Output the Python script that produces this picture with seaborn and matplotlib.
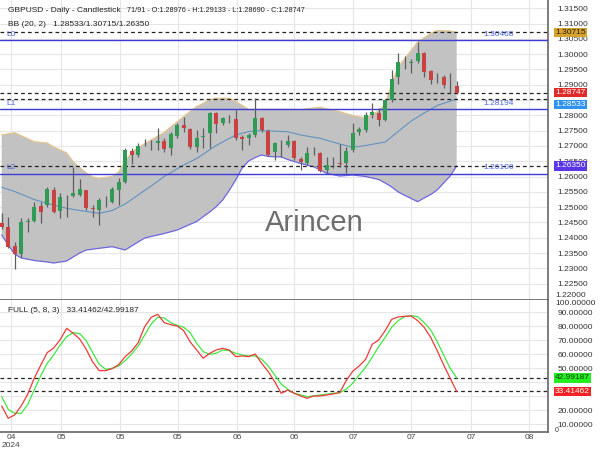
import matplotlib
matplotlib.use("Agg")
import matplotlib.pyplot as plt
import seaborn as sns
import numpy as np

# ---------------- data ----------------
opens = [1.24484, 1.24353, 1.23732, 1.23471, 1.24516, 1.24549, 1.25039, 1.25072, 1.25562, 1.24876,
         1.25366, 1.25366, 1.25399, 1.25562, 1.24974, 1.24908, 1.25268, 1.25170, 1.25562, 1.25824,
         1.26837, 1.26706, 1.27130, 1.27065, 1.27098, 1.27163, 1.26935, 1.27327, 1.27686, 1.27555,
         1.26967, 1.27294, 1.27425, 1.28078, 1.27751, 1.27915, 1.27882, 1.27294, 1.27261, 1.27359,
         1.27915, 1.27490, 1.26804, 1.27098, 1.27032, 1.27163, 1.26575, 1.26444, 1.26837, 1.26771,
         1.26216, 1.26412, 1.26444, 1.26444, 1.26869, 1.27457, 1.27523, 1.28013, 1.28078, 1.27849,
         1.28503, 1.29255, 1.29712, 1.29712, 1.29778, 1.30039, 1.29451, 1.29157, 1.29255, 1.28993,
         1.28976]
highs = [1.24810, 1.24679, 1.23863, 1.24647, 1.24647, 1.25170, 1.25170, 1.25660, 1.25660, 1.25464,
         1.25399, 1.26314, 1.25922, 1.25562, 1.25072, 1.25301, 1.25366, 1.25660, 1.25954, 1.26935,
         1.26935, 1.27098, 1.27228, 1.27196, 1.27588, 1.27261, 1.27457, 1.27751, 1.27947, 1.27588,
         1.27523, 1.27588, 1.28111, 1.28111, 1.27947, 1.28013, 1.28176, 1.27359, 1.27425, 1.28568,
         1.27947, 1.27555, 1.27130, 1.27196, 1.27359, 1.27196, 1.26641, 1.26967, 1.26967, 1.26804,
         1.26641, 1.26641, 1.27065, 1.26967, 1.27751, 1.27621, 1.28111, 1.28405, 1.28242, 1.28536,
         1.29483, 1.30039, 1.29941, 1.29843, 1.30398, 1.30072, 1.29483, 1.29385, 1.29320, 1.29385,
         1.29133]
lows = [1.24288, 1.23667, 1.22981, 1.23373, 1.24190, 1.24516, 1.24484, 1.25006, 1.24810, 1.24647,
        1.24679, 1.25333, 1.25366, 1.24908, 1.24679, 1.24418, 1.25006, 1.25137, 1.25072, 1.25791,
        1.26412, 1.26641, 1.27000, 1.26869, 1.26869, 1.26804, 1.26706, 1.27261, 1.27457, 1.26902,
        1.26804, 1.26935, 1.26935, 1.27425, 1.27686, 1.27751, 1.27196, 1.26869, 1.27032, 1.27294,
        1.27457, 1.26673, 1.26542, 1.26641, 1.26967, 1.26542, 1.26216, 1.26379, 1.26706, 1.26150,
        1.26118, 1.26281, 1.26314, 1.26118, 1.26804, 1.27359, 1.27457, 1.27915, 1.27653, 1.27817,
        1.28438, 1.29026, 1.29516, 1.29385, 1.29712, 1.29255, 1.29026, 1.29059, 1.28895, 1.28732,
        1.28690]
closes = [1.24353, 1.23699, 1.23471, 1.24516, 1.24549, 1.25006, 1.24843, 1.25595, 1.24843, 1.25333,
          1.25366, 1.25464, 1.25595, 1.24974, 1.24941, 1.25235, 1.25268, 1.25595, 1.25824, 1.26869,
          1.26706, 1.27000, 1.27130, 1.27065, 1.27163, 1.26902, 1.27392, 1.27686, 1.27588, 1.26967,
          1.27261, 1.27327, 1.28078, 1.27719, 1.27915, 1.27915, 1.27261, 1.27228, 1.27359, 1.27915,
          1.27523, 1.26706, 1.27098, 1.27098, 1.27163, 1.26608, 1.26477, 1.26771, 1.26837, 1.26183,
          1.26379, 1.26412, 1.26412, 1.26837, 1.27425, 1.27555, 1.28013, 1.28111, 1.27849, 1.28503,
          1.29189, 1.29745, 1.29712, 1.29745, 1.30039, 1.29418, 1.29157, 1.29157, 1.28993, 1.28993,
          1.28747]

# Bollinger band (20, 2), at candle indices
bb_upper_idx = [0, 2, 5, 7, 8, 10, 11, 13, 14, 15, 17, 18, 19, 20, 21, 23, 25, 28, 30, 31,
                32, 33, 35, 36, 37, 38, 40, 44, 46, 49, 52, 54, 56, 58, 59, 60, 61, 63, 64, 66,
                67, 69, 70]
bb_upper = [1.27359, 1.27434, 1.27140, 1.27098, 1.26967, 1.26771, 1.26487, 1.26118, 1.25987, 1.25944,
            1.26003, 1.26150, 1.26494, 1.26787, 1.26951, 1.27196, 1.27441, 1.27964, 1.28291, 1.28389,
            1.28519, 1.28559, 1.28559, 1.28454, 1.28323, 1.28193, 1.28199, 1.28199, 1.28193, 1.28265,
            1.28121, 1.27996, 1.27915, 1.28144, 1.28372, 1.29026, 1.29581, 1.30121, 1.30398, 1.30676,
            1.30774, 1.30758, 1.30715]
bb_mid_idx = [0, 2, 5, 7, 10, 12, 15, 17, 19, 21, 23, 25, 28, 30, 33, 36, 38, 40, 44, 46,
              49, 52, 54, 56, 59, 61, 63, 65, 67, 70]
bb_mid = [1.25650, 1.25513, 1.25252, 1.25121, 1.24964, 1.24892, 1.24800, 1.24892, 1.25105, 1.25399,
          1.25693, 1.26003, 1.26379, 1.26591, 1.27016, 1.27359, 1.27474, 1.27500, 1.27467, 1.27359,
          1.27251, 1.27065, 1.26958, 1.27016, 1.27130, 1.27474, 1.27817, 1.28078, 1.28323, 1.28533]
bb_lower_idx = [0, 1, 2, 3, 5, 7, 8, 10, 12, 13, 15, 17, 19, 20, 21, 22, 23, 25, 27, 30,
                32, 33, 34, 35, 36, 37, 38, 39, 40, 41, 43, 44, 46, 48, 50, 52, 54, 56, 58, 59,
                60, 61, 63, 64, 65, 66, 67, 68, 69, 70]
bb_lower = [1.24091, 1.23764, 1.23471, 1.23340, 1.23258, 1.23209, 1.23176, 1.23242, 1.23503, 1.23601,
            1.23657, 1.23709, 1.23601, 1.23732, 1.23863, 1.23993, 1.24042, 1.24140, 1.24255, 1.24533,
            1.24843, 1.25016, 1.25235, 1.25546, 1.25889, 1.26281, 1.26510, 1.26624, 1.26706, 1.26657,
            1.26641, 1.26559, 1.26428, 1.26323, 1.26107, 1.26019, 1.26052, 1.26003, 1.25905, 1.25791,
            1.25660, 1.25497, 1.25284, 1.25180, 1.25301, 1.25415, 1.25562, 1.25791, 1.26019, 1.26350]

# Stochastic FULL (5, 8, 3)
stoch_k = [23.0, 14.19, 16.57, 23.0, 31.33, 42.76, 52.04, 61.09, 64.42, 70.38,
           78.47, 74.90, 70.85, 63.47, 54.42, 48.23, 48.23, 49.66, 52.52, 58.23,
           62.28, 68.23, 79.66, 86.33, 88.47, 82.52, 81.09, 80.14, 76.81, 68.71,
           63.0, 57.04, 60.61, 63.0, 64.19, 63.0, 58.23, 58.71, 58.23, 60.14,
           53.47, 47.52, 40.38, 32.04, 34.42, 32.04, 30.14, 28.47, 30.14, 30.14,
           30.85, 31.57, 32.52, 41.09, 47.76, 51.57, 56.33, 67.04, 70.14, 76.81,
           84.90, 86.57, 87.04, 87.28, 83.95, 79.19, 72.04, 62.52, 52.28, 42.76,
           33.41462]
stoch_d = [29.66, 20.61, 17.76, 17.76, 23.95, 34.42, 44.42, 53.47, 59.42, 66.57,
           72.52, 75.38, 74.66, 69.66, 61.09, 52.76, 49.19, 49.90, 51.57, 55.38,
           60.14, 65.85, 73.71, 81.57, 86.33, 85.85, 82.52, 80.61, 79.19, 75.38,
           67.76, 61.81, 59.90, 60.61, 63.0, 62.52, 60.61, 59.42, 58.71, 58.71,
           56.33, 51.57, 45.14, 38.71, 34.90, 32.04, 30.85, 29.66, 30.14, 30.85,
           31.33, 32.04, 32.52, 34.90, 39.19, 45.14, 50.61, 57.76, 65.38, 72.04,
           79.19, 83.95, 86.81, 87.52, 86.81, 82.52, 77.28, 68.95, 59.42, 49.90,
           42.99187]

support_levels = [1.30468, 1.28194, 1.26100]
support_names = ["L0", "L1", "L2"]
x_tick_labels = ["04\n2024", "05", "05", "05", "06", "06", "07", "07", "07", "08"]
x_tick_pos = [1.43, 9.12, 18.2, 27.1, 36.2, 45.0, 54.1, 63.0, 72.2, 81.1]

last_o, last_h, last_l, last_c = 1.28976, 1.29133, 1.28690, 1.28747

# ---------------- style ----------------
sns.set_theme(style="white")
plt.rcParams['font.family'] = ['Liberation Sans', 'DejaVu Sans']

FS = 6
GRID = '#e6e6e6'
SPINE = '#666666'

fig = plt.figure(figsize=(6, 4.5), dpi=100)
W = 548 / 600
ax1 = fig.add_axes([0, 150 / 450, W, 300 / 450])
ax2 = fig.add_axes([0, (450 - 431.7) / 450, W, 131.7 / 450])

xlim = (-0.26, 84.05)
idx = np.arange(len(closes))

# ---------------- top panel ----------------
poly_x = np.r_[bb_upper_idx, bb_lower_idx[::-1]]
poly_y = np.r_[bb_upper, bb_lower[::-1]]
ax1.fill(poly_x, poly_y, color='#c2c2c2', lw=0, zorder=1)
sns.lineplot(x=bb_upper_idx, y=bb_upper, ax=ax1, color='#e4c48c', lw=0.9, zorder=2)
sns.lineplot(x=bb_lower_idx, y=bb_lower, ax=ax1, color='#6c66e2', lw=0.9, zorder=2)
sns.lineplot(x=bb_mid_idx, y=bb_mid, ax=ax1, color='#6392c0', lw=0.8, zorder=2)

# reference lines
for lv, nm in zip(support_levels, support_names):
    ax1.axhline(lv, color='#3c3cd6', lw=1.0, zorder=4)
    ax1.annotate(nm, xy=(0.012, lv), xycoords=ax1.get_yaxis_transform(),
                 xytext=(0, 1.5), textcoords='offset points', fontsize=FS,
                 color='#4a64dc', ha='left', va='bottom', zorder=9)
    ax1.annotate(f"{lv:.5f}", xy=(76.4, lv), xytext=(0, 1.5), textcoords='offset points',
                 fontsize=FS, color='#4a64dc', ha='center', va='bottom', zorder=9)
for lv in [1.30715, 1.28747, 1.28533, 1.26350]:
    ax1.axhline(lv, color='#222222', lw=0.9, ls=(0, (3, 2.5)), zorder=4)

# candles
o = np.array(opens); c = np.array(closes); h = np.array(highs); l = np.array(lows)
doji = np.abs(c - o) < 0.0001
colors = np.where(doji, '#6a6a6a', np.where(c > o, '#2f9b55', '#c84242'))
bottoms = np.minimum(o, c)
heights = np.where(doji, 0.00028, np.abs(c - o))
bottoms = np.where(doji, o - 0.00014, bottoms)
ax1.vlines(idx, l, h, color='#5e5e5e', lw=0.9, zorder=5)
ax1.bar(idx, heights, bottom=bottoms, width=0.62, color=list(colors), lw=0, zorder=6)

ax1.set_xlim(*xlim)
ax1.set_ylim(1.21967, 1.31771)
yt = [round(1.22 + 0.005 * k, 3) for k in range(20)]
hidden_top = [1.22, 1.285]
ax1.set_yticks(yt)
ax1.set_yticklabels(['' if any(abs(v - hv) < 1e-9 for hv in hidden_top) else f"{v:.5f}" for v in yt])
ax1.yaxis.tick_right()
ax1.tick_params(axis='y', length=0, pad=7, labelsize=FS, labelcolor='#333333')
ax1.set_xticks(x_tick_pos)
ax1.tick_params(axis='x', length=0, labelbottom=False)
ax1.grid(True, color=GRID, lw=0.8)
ax1.set_axisbelow(True)
ax1.set_xlabel(''); ax1.set_ylabel('')
for s in ['left', 'top']:
    ax1.spines[s].set_visible(False)
for s in ['right', 'bottom']:
    ax1.spines[s].set_color(SPINE); ax1.spines[s].set_linewidth(1.2)

LX = 1.0 + 7 / 548
ax1.text(LX, 1.22, "1.22000", transform=ax1.get_yaxis_transform(), fontsize=FS, color='#333333',
         ha='left', va='bottom', clip_on=False)

def box(ax, y, txt, fc, tc, dy=0.0):
    ax.annotate(txt, xy=(LX, y), xycoords=ax.get_yaxis_transform(),
                xytext=(0, dy), textcoords='offset points', fontsize=FS, color=tc,
                ha='left', va='center', annotation_clip=False, zorder=10,
                bbox=dict(boxstyle='square,pad=0.15', fc=fc, ec='none'))

box(ax1, 1.30715, "1.30715", '#d6a22a', '#222222')
box(ax1, 1.28747, "1.28747", '#e02a2a', 'white')
box(ax1, 1.28533, "1.28533", '#2f93f0', 'white', dy=-4.0)
box(ax1, 1.26350, "1.26350", '#5a36e6', 'white')

ax1.text(8 / 548, 1 - 11 / 300, "GBPUSD - Daily - Candlestick",
         transform=ax1.transAxes, fontsize=FS, color='#222222', ha='left', va='center')
ax1.text(127 / 548, 1 - 11 / 300,
         f"71/91 - O:{last_o:.5f} - H:{last_h:.5f} - L:{last_l:.5f} - C:{last_c:.5f}",
         transform=ax1.transAxes, fontsize=5.2, color='#222222', ha='left', va='center')
ax1.text(8 / 548, 1 - 25 / 300, f"BB (20, 2)   {bb_mid[-1]:.5f}/{bb_upper[-1]:.5f}/{bb_lower[-1]:.5f}",
         transform=ax1.transAxes, fontsize=FS, color='#222222', ha='left', va='center')
ax1.text(314 / 548, 1 - 223 / 300, "Arincen", transform=ax1.transAxes, fontsize=21,
         color='#6e6e6e', ha='center', va='center', zorder=8)

# ---------------- bottom panel ----------------
sns.lineplot(x=idx, y=stoch_d, ax=ax2, color='#3ee83e', lw=0.9, zorder=3)
sns.lineplot(x=idx, y=stoch_k, ax=ax2, color='#ec3a3a', lw=0.9, zorder=4)
for lv in [stoch_d[-1], stoch_k[-1]]:
    ax2.axhline(lv, color='#222222', lw=0.9, ls=(0, (3, 2.5)), zorder=2)
ax2.set_xlim(*xlim)
ax2.set_ylim(4.6, 98.7)
st = list(range(10, 100, 10))
ax2.set_yticks(st)
ax2.set_yticklabels(['' if v in (30, 40) else f"{v:.5f}" for v in st])
ax2.yaxis.tick_right()
ax2.tick_params(axis='y', length=0, pad=7, labelsize=FS, labelcolor='#333333')
ax2.set_xticks(x_tick_pos)
ax2.set_xticklabels(x_tick_labels)
ax2.tick_params(axis='x', length=0, pad=2, labelsize=FS, labelcolor='#444444')
ax2.grid(True, color=GRID, lw=0.8)
ax2.set_axisbelow(True)
ax2.set_xlabel(''); ax2.set_ylabel('')
for s in ['left', 'top']:
    ax2.spines[s].set_visible(False)
for s in ['right', 'bottom']:
    ax2.spines[s].set_color(SPINE); ax2.spines[s].set_linewidth(1.2)
ax2.text(LX, 0.975, "100.00000", transform=ax2.transAxes, fontsize=FS, color='#333333',
         ha='left', va='center', clip_on=False)
ax2.text(LX, 0.012, "0", transform=ax2.transAxes, fontsize=FS - 1, color='#333333',
         ha='left', va='center', clip_on=False)
box(ax2, stoch_d[-1], f"{stoch_d[-1]:.5f}", '#22ee22', '#114411')
box(ax2, stoch_k[-1], f"{stoch_k[-1]:.5f}", '#f42222', 'white')
ax2.text(8 / 548, 1 - 10.7 / 131.7, f"FULL (5, 8, 3)   {stoch_k[-1]:.5f}/{stoch_d[-1]:.5f}",
         transform=ax2.transAxes, fontsize=FS, color='#222222', ha='left', va='center')

fig.savefig("out.png", dpi=100)
